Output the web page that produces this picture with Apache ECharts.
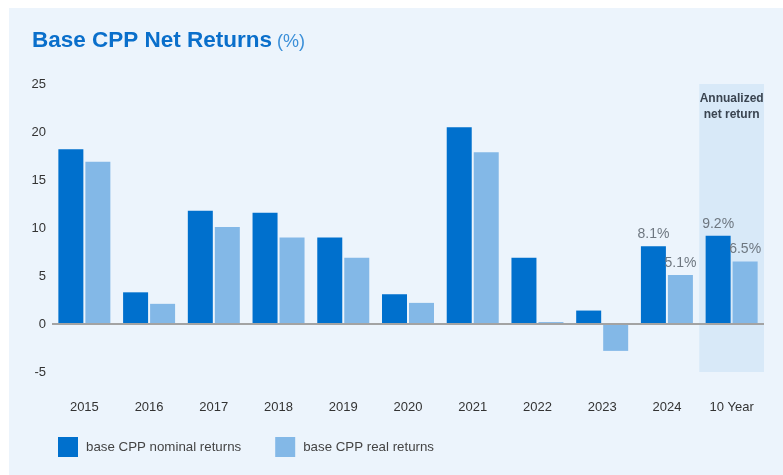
<!DOCTYPE html>
<html>
<head>
<meta charset="utf-8">
<script src="https://cdn.jsdelivr.net/npm/echarts@6/dist/echarts.min.js"></script>
<style>
  html, body { margin: 0; padding: 0; background: #fff; }
  #chart { position: absolute; left: 9px; top: 8px; width: 774px; height: 467px; }
</style>
</head>
<body>
<div id="chart"></div>
<script>
var categories = ['2015', '2016', '2017', '2018', '2019', '2020', '2021', '2022', '2023', '2024', '10 Year']
var nominalReturns = [18.2, 3.3, 11.8, 11.6, 9.0, 3.1, 20.5, 6.9, 1.4, 8.1, 9.2]
var realReturns = [16.9, 2.1, 10.1, 9.0, 6.9, 2.2, 17.9, 0.2, -2.8, 5.1, 6.5]
var labelledFrom = 9 // 2024 and 10 Year carry value labels
var yMin = -5
var yMax = 25

function withLabels(list) {
	return list.map(function(v, i) {
		if (i >= labelledFrom) {
			return { value: v, label: { show: true } }
		}
		return v
	})
}

var bandTop = categories.map(function(c, i) { return i === categories.length - 1 ? yMax : null })
var bandBottom = categories.map(function(c, i) { return i === categories.length - 1 ? yMin : null })

var valueLabel = {
	show: false,
	position: 'top',
	distance: 5,
	color: '#6e7780',
	fontSize: 14,
	fontFamily: 'Liberation Sans',
	formatter: function(p) { return p.value.toFixed(1) + '%' }
}

var myEchart = echarts.init(document.getElementById('chart'))
var option = {
	backgroundColor: '#ecf4fc',
	animation: false,
	textStyle: { fontFamily: 'Liberation Sans' },
	title: {
		left: 18,
		top: 16,
		text: '{main|Base CPP Net Returns} {unit|(%)}',
		textStyle: {
			rich: {
				main: { fontSize: 22.5, fontWeight: 'bold', color: '#0a6fcb', fontFamily: 'Liberation Sans' },
				unit: { fontSize: 18, fontWeight: 'normal', color: '#3b8fd8', fontFamily: 'Liberation Sans', padding: [3, 0, 0, 0] }
			}
		}
	},
	legend: {
		left: 44,
		top: 424,
		itemWidth: 20,
		itemHeight: 20,
		itemGap: 34,
		icon: 'rect',
		textStyle: { color: '#444', fontSize: 13.3, padding: [0, 0, 0, 3] },
		data: ['base CPP nominal returns', 'base CPP real returns']
	},
	grid: {
		left: 43,
		right: 19,
		top: 76,
		bottom: 103
	},
	xAxis: [{
		type: 'category',
		data: categories,
		axisLine: { show: false, onZero: false },
		axisTick: { show: false },
		axisLabel: { color: '#333', fontSize: 13, margin: 29 }
	}, {
		type: 'category',
		data: categories,
		show: false
	}],
	yAxis: {
		type: 'value',
		min: yMin,
		max: yMax,
		interval: 5,
		splitLine: { show: false },
		axisLine: { show: false },
		axisTick: { show: false },
		axisLabel: { color: '#333', fontSize: 13, margin: 6 }
	},
	series: [{
		name: 'band',
		type: 'bar',
		xAxisIndex: 1,
		stack: 'band',
		barWidth: '100%',
		z: 1,
		silent: true,
		itemStyle: { color: '#d8e9f8' },
		label: {
			show: true,
			position: 'insideTop',
			distance: 7,
			formatter: 'Annualized\nnet return',
			fontWeight: 'bold',
			fontSize: 12,
			lineHeight: 16,
			color: '#3a4450'
		},
		data: bandTop
	}, {
		name: 'bandLow',
		type: 'bar',
		xAxisIndex: 1,
		stack: 'band',
		barWidth: '100%',
		z: 1,
		silent: true,
		itemStyle: { color: '#d8e9f8' },
		data: bandBottom
	}, {
		name: 'base CPP nominal returns',
		type: 'bar',
		barWidth: 25,
		barGap: '8%',
		z: 3,
		itemStyle: { color: '#0070cd' },
		label: valueLabel,
		data: withLabels(nominalReturns),
		markLine: {
			silent: true,
			symbol: ['none', 'none'],
			label: { show: false },
			lineStyle: { color: '#a3a3a3', width: 2, type: 'solid' },
			data: [{ yAxis: 0 }]
		}
	}, {
		name: 'base CPP real returns',
		type: 'bar',
		barWidth: 25,
		z: 3,
		itemStyle: { color: '#83b8e7' },
		label: valueLabel,
		data: withLabels(realReturns)
	}]
}
myEchart.setOption(option)
</script>
</body>
</html>
